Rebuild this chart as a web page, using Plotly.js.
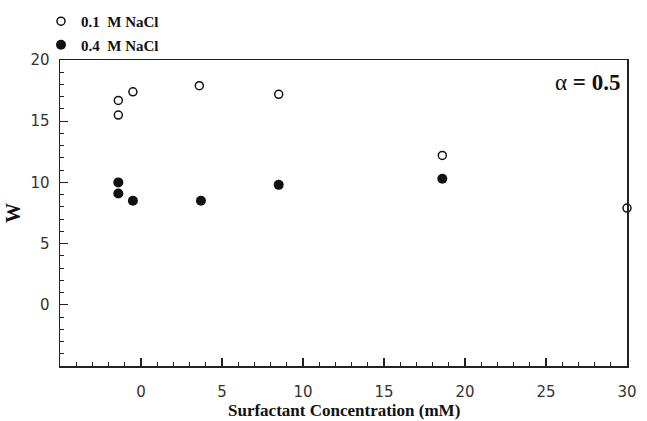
<!DOCTYPE html>
<html>
<head>
<meta charset="utf-8">
<script src="https://cdn.plot.ly/plotly-3.0.1.min.js"></script>
<style>html,body{margin:0;padding:0;background:#fff;}#chart{width:647px;height:421px;}</style>
</head>
<body>
<div id="chart"></div>
<script>
// Data
const seriesNames = ["0.1  M NaCl", "0.4  M NaCl"];
const conc01 = [-1.4, -1.4, -0.5, 3.6, 8.5, 18.6, 30.0];
const w01 = [16.7, 15.5, 17.4, 17.9, 17.2, 12.2, 7.9];
const conc04 = [-1.4, -1.4, -0.5, 3.7, 8.5, 18.6];
const w04 = [10.0, 9.1, 8.5, 8.5, 9.8, 10.3];
const xTicks = [0, 5, 10, 15, 20, 25, 30];
const yTicks = [0, 5, 10, 15, 20];
const xTitle = "Surfactant Concentration (mM)";

const serif = "Liberation Serif, Times New Roman, serif";
const sans = "DejaVu Sans, sans-serif";

const traces = [
  {
    x: conc01, y: w01, name: "<b>" + seriesNames[0] + "</b>", mode: "markers", type: "scatter",
    legendgroup: "a",
    marker: {symbol: "circle-open", size: 8, color: "#111", line: {width: 1.5, color: "#111"}},
    cliponaxis: false
  },
  {
    x: conc04, y: w04, name: "<b>" + seriesNames[1] + "</b>", mode: "markers", type: "scatter",
    legendgroup: "b",
    marker: {symbol: "circle", size: 10, color: "#111"},
    cliponaxis: false
  }
];

const axisCommon = {
  showline: true, linecolor: "#222", linewidth: 1.5, mirror: true,
  showgrid: false, zeroline: false,
  ticks: "inside", ticklen: 8, tickwidth: 1.2, tickcolor: "#222",
  tickfont: {family: sans, size: 15, color: "#333"},
  minor: {dtick: 1, ticks: "inside", ticklen: 4, tickwidth: 1, tickcolor: "#222"}
};

const layout = {
  width: 647, height: 421,
  margin: {l: 60, r: 20, t: 60, b: 55, autoexpand: false},
  paper_bgcolor: "#fff", plot_bgcolor: "#fff",
  showlegend: true,
  legend: {
    x: -0.0335, xanchor: "left", y: 1.18, yanchor: "top",
    font: {family: serif, size: 15, color: "#111"},
    bgcolor: "rgba(0,0,0,0)", tracegroupgap: 1, itemwidth: 30
  },
  xaxis: Object.assign({}, axisCommon, {
    range: [-5, 30], tickvals: xTicks, ticklabelstandoff: 11
  }),
  yaxis: Object.assign({}, axisCommon, {
    range: [-5, 20], tickvals: yTicks, ticklabelstandoff: 6,
    title: {text: "<b>W</b>", font: {family: serif, size: 20, color: "#111"}, standoff: 4}
  }),
  annotations: [
    {
      xref: "paper", yref: "paper", x: 1, y: 0.928, xanchor: "right", yanchor: "middle", xshift: -5,
      showarrow: false, text: "α <b>= 0.5</b>",
      font: {family: serif, size: 23, color: "#111"}
    },
    {
      xref: "paper", yref: "paper", x: 0.5, y: -0.1438, xanchor: "center", yanchor: "middle",
      showarrow: false, text: "<b>" + xTitle + "</b>",
      font: {family: serif, size: 17, color: "#111"}
    }
  ]
};

Plotly.newPlot("chart", traces, layout, {displayModeBar: false, staticPlot: true});
</script>
</body>
</html>
